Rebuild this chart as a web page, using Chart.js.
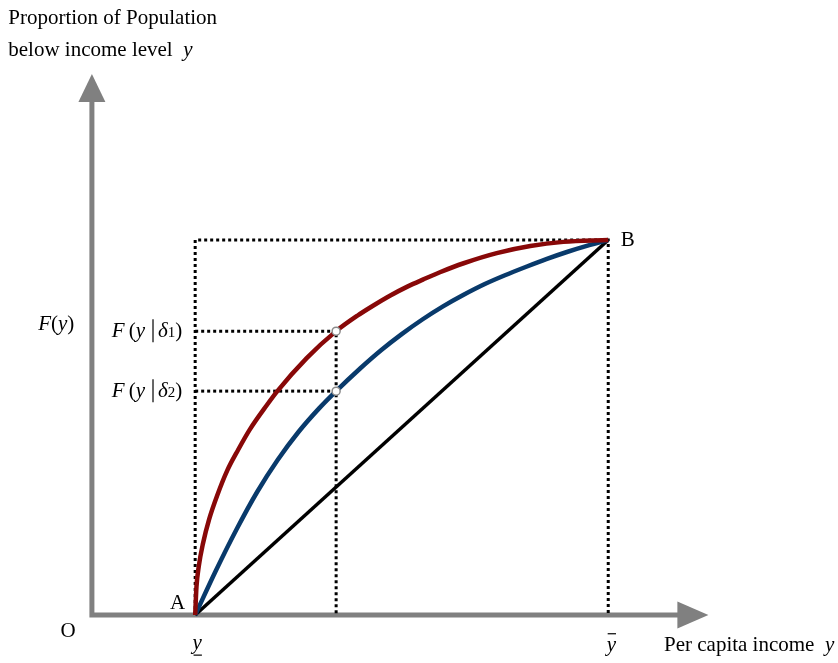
<!DOCTYPE html>
<html>
<head>
<meta charset="utf-8">
<script src="https://cdn.jsdelivr.net/npm/chart.js@4/dist/chart.umd.min.js"></script>
<style>
  html, body { margin: 0; padding: 0; background: #fff; }
  #wrap { width: 838px; height: 663px; position: relative; }
</style>
</head>
<body>
<div id="wrap"><canvas id="lorenzChart"></canvas></div>
<script>
// income (x) against proportion of population below that income (y)
const incomeRed = [20, 20.25, 20.7, 21.5, 22.7, 24.3, 26.2, 28.3, 30.6, 33.9, 35.8, 41.6, 47.3, 51.4, 54.6, 57.8, 61.0, 64.2, 67.4, 72, 78.4, 84.9, 91.3, 100];
const shareRed  = [0, 0.075, 0.13, 0.19, 0.255, 0.32, 0.385, 0.44, 0.495, 0.56, 0.595, 0.685, 0.757, 0.798, 0.826, 0.852, 0.875, 0.895, 0.914, 0.938, 0.965, 0.984, 0.995, 1];

const incomeBlue = [20, 24, 28, 32, 36, 40, 44, 47.3, 52, 56, 60, 64, 68, 72, 76, 80, 84, 88, 92, 96, 100];
const shareBlue  = [0, 0.118, 0.228, 0.328, 0.414, 0.488, 0.551, 0.597, 0.658, 0.706, 0.749, 0.788, 0.823, 0.854, 0.882, 0.906, 0.928, 0.949, 0.968, 0.985, 1];

const incomeEqual = [20, 100];
const shareEqual  = [0, 1];

const povertyLine = 20;    // y underline
const meanIncome = 100;    // y bar
const evalIncome = 47.3;
const fDelta1 = 0.757;
const fDelta2 = 0.597;

const axisTopTip = 1.443;
const axisRightTip = 119.4;

function pts(xs, ys) { return xs.map((x, i) => ({ x: x, y: ys[i] })); }

const dotted = { borderColor: '#000', borderWidth: 3, borderDash: [3, 3], pointRadius: 0, tension: 0, order: 3 };

const labels = [
  { x: -16.2, y: 1.59, align: 'left', runs: [{ t: 'Proportion of Population' }] },
  { x: -16.2, y: 1.505, align: 'left', runs: [{ t: 'below income level  ' }, { t: 'y', it: true }] },
  { x: -6.9, y: 0.775, align: 'center', runs: [{ t: 'F', it: true }, { t: '(' }, { t: 'y', it: true }, { t: ')' }] },
  { x: 17.5, y: fDelta1, align: 'right', runs: [{ t: 'F', it: true }, { t: '\u2009(' }, { t: 'y', it: true }, { bar: true }, { t: 'δ', it: true }, { t: '1', size: 15, dy: 2 }, { t: ')' }] },
  { x: 17.5, y: fDelta2, align: 'right', runs: [{ t: 'F', it: true }, { t: '\u2009(' }, { t: 'y', it: true }, { bar: true }, { t: 'δ', it: true }, { t: '2', size: 15, dy: 2 }, { t: ')' }] },
  { x: 16.6, y: 0.032, align: 'center', runs: [{ t: 'A' }] },
  { x: 103.8, y: 1.0, align: 'center', runs: [{ t: 'B' }] },
  { x: -4.6, y: -0.045, align: 'center', runs: [{ t: 'O' }] },
  { x: 20.4, y: -0.075, align: 'center', under: true, runs: [{ t: 'y', it: true }] },
  { x: 100.6, y: -0.082, align: 'center', over: true, runs: [{ t: 'y', it: true }] },
  { x: 110.8, y: -0.082, align: 'left', runs: [{ t: 'Per capita income  ' }, { t: 'y', it: true }] }
];

function fontOf(r) {
  return (r.it ? 'italic ' : '') + (r.size || 21) + 'px "Liberation Serif", "Times New Roman", serif';
}

function drawRuns(ctx, lab, x, y) {
  let w = 0;
  lab.runs.forEach(r => {
    ctx.font = fontOf(r);
    r.w = r.bar ? 13 : ctx.measureText(r.t).width;
    w += r.w;
  });
  let cx = lab.align === 'right' ? x - w : lab.align === 'center' ? x - w / 2 : x;
  const left = cx;
  lab.runs.forEach(r => {
    if (r.bar) {
      ctx.beginPath();
      ctx.lineWidth = 1.2;
      ctx.moveTo(cx + 8, y - 12);
      ctx.lineTo(cx + 8, y + 11);
      ctx.stroke();
    } else {
      ctx.font = fontOf(r);
      ctx.fillText(r.t, cx, y + (r.dy || 0));
    }
    cx += r.w;
  });
  if (lab.under || lab.over) {
    const ly = lab.under ? y + 12 : y - 12;
    ctx.beginPath();
    ctx.lineWidth = 1.2;
    ctx.moveTo(left + 1, ly);
    ctx.lineTo(left + w, ly);
    ctx.stroke();
  }
}

const axesPlugin = {
  id: 'axesArrows',
  beforeDatasetsDraw(chart) {
    const ctx = chart.ctx, sx = chart.scales.x, sy = chart.scales.y;
    const ox = sx.getPixelForValue(0), oy = sy.getPixelForValue(0);
    const topY = sy.getPixelForValue(axisTopTip), rightX = sx.getPixelForValue(axisRightTip);
    ctx.save();
    ctx.strokeStyle = '#808080';
    ctx.fillStyle = '#808080';
    ctx.lineWidth = 5;
    ctx.beginPath();
    ctx.moveTo(ox, oy);
    ctx.lineTo(ox, topY + 26);
    ctx.moveTo(ox - 2.5, oy);
    ctx.lineTo(rightX - 29, oy);
    ctx.stroke();
    ctx.beginPath();
    ctx.moveTo(ox, topY);
    ctx.lineTo(ox - 13.5, topY + 28);
    ctx.lineTo(ox + 13.5, topY + 28);
    ctx.closePath();
    ctx.fill();
    ctx.beginPath();
    ctx.moveTo(rightX, oy);
    ctx.lineTo(rightX - 31, oy - 13.5);
    ctx.lineTo(rightX - 31, oy + 13.5);
    ctx.closePath();
    ctx.fill();
    ctx.restore();
  },
  afterDatasetsDraw(chart) {
    const ctx = chart.ctx, sx = chart.scales.x, sy = chart.scales.y;
    ctx.save();
    ctx.fillStyle = '#000';
    ctx.strokeStyle = '#000';
    ctx.textBaseline = 'middle';
    ctx.textAlign = 'left';
    labels.forEach(lab => drawRuns(ctx, lab, sx.getPixelForValue(lab.x), sy.getPixelForValue(lab.y)));
    ctx.restore();
  }
};

new Chart('lorenzChart', {
  type: 'line',
  data: {
    datasets: [
      {
        data: pts([evalIncome, evalIncome], [fDelta1, fDelta2]),
        showLine: false,
        pointRadius: 4,
        pointBorderWidth: 1.5,
        pointBackgroundColor: '#fff',
        pointBorderColor: '#8a8a8a',
        order: 0
      },
      { data: pts(incomeRed, shareRed), borderColor: '#880808', borderWidth: 4.5, pointRadius: 0, cubicInterpolationMode: 'monotone', order: 1 },
      { data: pts(incomeBlue, shareBlue), borderColor: '#093a6b', borderWidth: 4.5, pointRadius: 0, cubicInterpolationMode: 'monotone', order: 1 },
      { data: pts(incomeEqual, shareEqual), borderColor: '#000', borderWidth: 3.5, pointRadius: 0, order: 2 },
      Object.assign({ data: pts([povertyLine, povertyLine, meanIncome, meanIncome], [0, 1, 1, 0]) }, dotted),
      Object.assign({ data: pts([povertyLine, evalIncome, evalIncome], [fDelta1, fDelta1, 0]) }, dotted),
      Object.assign({ data: pts([povertyLine, evalIncome], [fDelta2, fDelta2]) }, dotted)
    ]
  },
  options: {
    responsive: true,
    maintainAspectRatio: false,
    animation: false,
    layout: { padding: 0, autoPadding: false },
    plugins: { legend: { display: false }, tooltip: { enabled: false } },
    scales: {
      x: { type: 'linear', min: -17.8, max: 144.5, display: false },
      y: { type: 'linear', min: -0.128, max: 1.64, display: false }
    }
  },
  plugins: [axesPlugin]
});
</script>
</body>
</html>
